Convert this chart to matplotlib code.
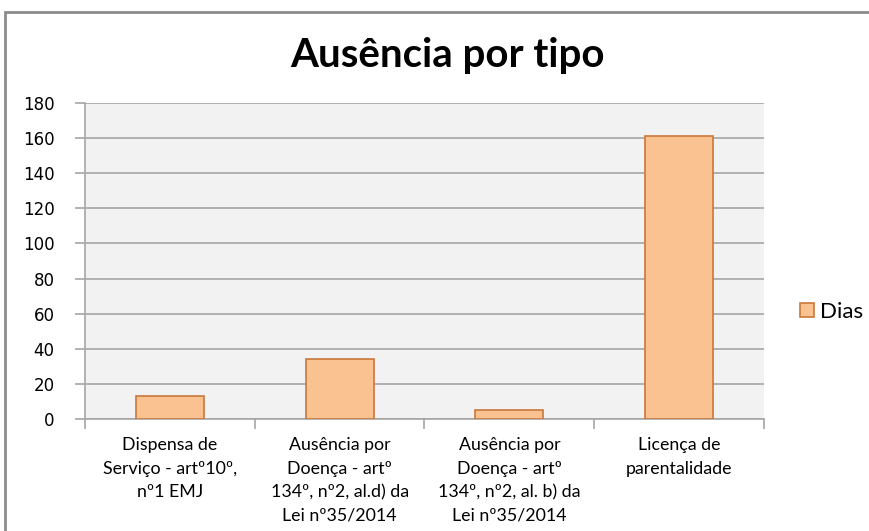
import matplotlib

matplotlib.use("Agg")
import matplotlib.patches as mpatches
import matplotlib.pyplot as plt

# data
categories = [
    "Dispensa de\nServiço - artº10º,\nnº1 EMJ",
    "Ausência por\nDoença - artº\n134º, nº2, al.d) da\nLei nº35/2014",
    "Ausência por\nDoença - artº\n134º, nº2, al. b) da\nLei nº35/2014",
    "Licença de\nparentalidade",
]
dias = [13, 34, 5, 161]
y_ticks = [0, 20, 40, 60, 80, 100, 120, 140, 160, 180]

BAR_FILL = "#f9c290"
BAR_EDGE = "#c9783a"
GRID = "#a6a6a6"

fig = plt.figure(figsize=(8.7, 5.31), dpi=100)
ax = fig.add_axes([85 / 870, 1 - 419 / 531, (764 - 85) / 870, (419 - 103) / 531])
ax.set_facecolor("#f2f2f2")

x = list(range(len(categories)))
ax.bar(x, dias, width=0.4, color=BAR_FILL, edgecolor=BAR_EDGE, linewidth=1.2,
       label="Dias", zorder=3)

ax.set_xlim(-0.5, len(categories) - 0.5)
ax.set_ylim(0, 180)
ax.set_yticks(y_ticks)
ax.yaxis.grid(True, color=GRID, linewidth=1.2, zorder=0)

# category boundary ticks, labels in the middle
ax.set_xticks([i - 0.5 for i in range(len(categories) + 1)])
ax.set_xticklabels([])
ax.set_xticks(x, minor=True)
ax.set_xticklabels(categories, minor=True, family="Lato", fontsize=12.8, linespacing=1.58)
ax.tick_params(axis="x", which="major", length=7, color=GRID, width=1.2, direction="out")
ax.tick_params(axis="x", which="minor", length=0, pad=13)
ax.tick_params(axis="y", length=7, color=GRID, width=1.2, labelsize=12, pad=15)

for side in ("top", "right"):
    ax.spines[side].set_visible(False)
for side in ("left", "bottom"):
    ax.spines[side].set_color(GRID)
    ax.spines[side].set_linewidth(1.2)

fig.text(447 / 870, 1 - 56 / 531, "Ausência por tipo", ha="center", va="center",
         family="Lato", fontweight="bold", fontsize=29)

# legend on the right
leg = ax.legend(loc="center left", bbox_to_anchor=(1.0, 0.34), borderaxespad=0,
                borderpad=0, frameon=False,
                prop={"family": "Lato", "size": 16}, handlelength=0.62, handleheight=0.62,
                handletextpad=0.3)

# outer chart border (cropped at the right and bottom)
fig.patches.append(mpatches.Rectangle((5 / 870, -0.1), 1.2, 1 - 12 / 531 + 0.1,
                                      transform=fig.transFigure, fill=False,
                                      edgecolor="#8c8c8c", linewidth=2))

fig.canvas.draw()
# place the legend so its marker starts where the reference's does (x ~ 800 px)
bb = leg.get_window_extent()
shift = (800 - bb.x0) / (764 - 85)
leg.set_bbox_to_anchor((1.0 + shift, 0.34), transform=ax.transAxes)

fig.savefig("out.png", dpi=100)
